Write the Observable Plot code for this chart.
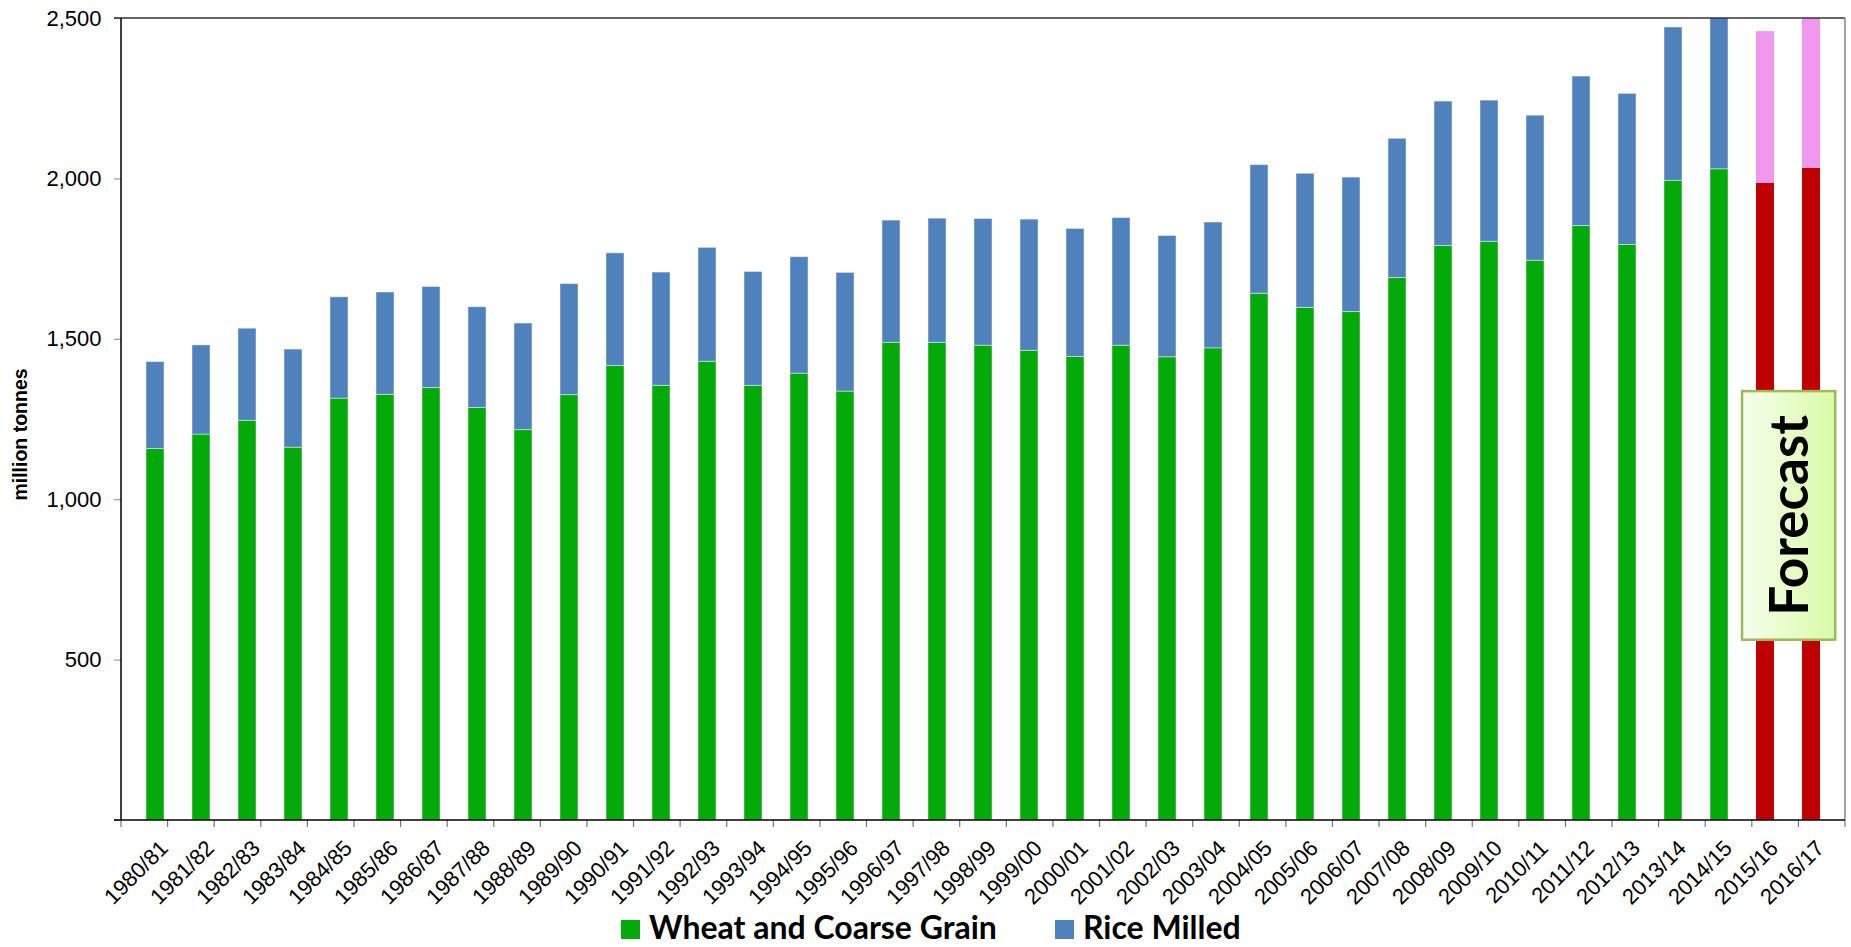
<!DOCTYPE html>
<html>
<head>
<meta charset="utf-8">
<script src="https://cdn.jsdelivr.net/npm/d3@7"></script>
<script src="https://cdn.jsdelivr.net/npm/@observablehq/plot@0.6"></script>
<style>
html, body { margin: 0; padding: 0; background: #fff; overflow: hidden; }
#chart { position: relative; width: 1851px; height: 947px; }
.legend .item { position: absolute; top: 914px; height: 26px; display: flex; align-items: flex-start;
  font-family: Lato, "Open Sans", sans-serif; font-weight: 700; font-size: 32px; line-height: 26px;
  color: #000; white-space: nowrap; }
.legend .sw { width: 19px; height: 19px; margin-top: 6px; margin-right: 9px; flex: none; }
</style>
</head>
<body>
<div id="chart"></div>
<script>
// ---- data (million tonnes) ----
const years = ["1980/81","1981/82","1982/83","1983/84","1984/85","1985/86","1986/87","1987/88","1988/89","1989/90",
  "1990/91","1991/92","1992/93","1993/94","1994/95","1995/96","1996/97","1997/98","1998/99","1999/00",
  "2000/01","2001/02","2002/03","2003/04","2004/05","2005/06","2006/07","2007/08","2008/09","2009/10",
  "2010/11","2011/12","2012/13","2013/14","2014/15","2015/16","2016/17"];
const wheatCoarse = [1158,1203,1246,1162,1315,1327,1348,1286,1217,1326,
  1417,1355,1430,1355,1393,1337,1489,1489,1480,1464,
  1445,1480,1444,1472,1642,1598,1585,1691,1791,1804,
  1745,1853,1794,1994,2030,1986,2033];
const riceMilled = [271,278,287,306,316,319,315,314,332,346,
  351,353,355,355,363,370,381,387,395,409,
  399,398,378,392,401,418,419,434,450,440,
  452,466,471,478,478,473,480];
const forecastYears = ["2015/16","2016/17"];
const seriesNames = ["Wheat and Coarse Grain", "Rice Milled"];
const seriesColors = ["#04A90A", "#4F81BD"];
const forecastColors = ["#C00000", "#F097EE"];
const yTicks = [0, 500, 1000, 1500, 2000, 2500];
const yLabel = "million tonnes";
const forecastLabel = "Forecast";
const forecastBox = [562, 1337]; // value range covered by the annotation box

// ---- table for the library ----
const rows = years.flatMap((year, i) => {
  const f = forecastYears.includes(year);
  return [
    {year, series: seriesNames[0] + (f ? " (forecast)" : ""), value: wheatCoarse[i], forecast: f},
    {year, series: seriesNames[1] + (f ? " (forecast)" : ""), value: riceMilled[i], forecast: f}
  ];
});
const colorDomain = [...seriesNames, ...seriesNames.map(s => s + " (forecast)")];
const colorRange = [...seriesColors, ...forecastColors];

const decor = (index, scales, values, dimensions) => {
  const {width, height, marginLeft, marginRight, marginTop, marginBottom} = dimensions;
  const x0 = marginLeft, x1 = width - marginRight, y0 = marginTop, y1 = height - marginBottom;
  const step = (x1 - x0) / years.length;
  const g = d3.create("svg:g");
  // category boundary ticks
  for (let i = 0; i <= years.length; i++) {
    const x = x0 + i * step;
    g.append("line").attr("x1", x).attr("x2", x).attr("y1", y1).attr("y2", y1 + 7)
      .attr("stroke", "#777").attr("stroke-width", 1.2);
  }
  // frame
  g.append("line").attr("x1", x0 - 7).attr("x2", x1).attr("y1", y0).attr("y2", y0).attr("stroke", "#333").attr("stroke-width", 1.5);
  g.append("line").attr("x1", x1).attr("x2", x1).attr("y1", y0).attr("y2", y1).attr("stroke", "#888").attr("stroke-width", 1.5);
  g.append("line").attr("x1", x0).attr("x2", x0).attr("y1", y0).attr("y2", y1).attr("stroke", "#000").attr("stroke-width", 1.5);
  g.append("line").attr("x1", x0 - 7).attr("x2", x1).attr("y1", y1).attr("y2", y1).attr("stroke", "#000").attr("stroke-width", 1.5);
  // forecast annotation box
  const fi = years.indexOf(forecastYears[0]);
  const bx = x0 + fi * step - 0.21 * step;
  const bw = forecastYears.length * step;
  const by = scales.y(forecastBox[1]);
  const bh = scales.y(forecastBox[0]) - by;
  const grad = g.append("defs").append("linearGradient").attr("id", "fcGrad")
    .attr("x1", "0").attr("x2", "1").attr("y1", "0").attr("y2", "0");
  grad.append("stop").attr("offset", "0").attr("stop-color", "#F5FFEE");
  grad.append("stop").attr("offset", "1").attr("stop-color", "#D9FBA6");
  g.append("rect").attr("x", bx).attr("y", by).attr("width", bw).attr("height", bh)
    .attr("fill", "url(#fcGrad)").attr("stroke", "#9BBB59").attr("stroke-width", 2.5);
  g.append("text").attr("transform", `translate(${bx + bw / 2},${by + bh / 2}) rotate(-90)`)
    .attr("text-anchor", "middle").attr("dy", "0.36em")
    .attr("font-family", 'Lato, "Open Sans", sans-serif').attr("font-weight", 700).attr("font-size", 53)
    .attr("fill", "#000").text(forecastLabel);
  return g.node();
};

const chart = Plot.plot({
  width: 1851,
  height: 912,
  marginTop: 18,
  marginLeft: 121,
  marginRight: 6,
  marginBottom: 92,
  style: {fontFamily: '"Liberation Sans", Arial, sans-serif', fontSize: "21.5px", color: "#000", background: "#fff"},
  x: {domain: years, paddingInner: 0.6, paddingOuter: 0.3, align: 0.5, axis: null},
  y: {domain: [0, 2500]},
  color: {domain: colorDomain, range: colorRange},
  marks: [
    Plot.barY(rows.filter(d => !d.forecast), Plot.stackY({x: "year", y: "value", fill: "series",
      stroke: "#fff", strokeOpacity: 0.45, strokeWidth: 1, clip: true})),
    Plot.barY(rows.filter(d => d.forecast), Plot.stackY({x: "year", y: "value", fill: "series", clip: true})),
    Plot.axisY({ticks: yTicks, tickFormat: d => d === 0 ? "" : d3.format(",")(d), tickSize: 7, tickPadding: 13,
      stroke: "#888", fill: "#000", label: null, fontSize: 22}),
    Plot.text(years, {x: d => d, frameAnchor: "bottom", dy: 24, dx: 9, rotate: -45,
      textAnchor: "end", lineAnchor: "middle", fontSize: 22, fill: "#000",
      fontFamily: '"Liberation Sans", Arial, sans-serif'}),
    Plot.text([yLabel], {frameAnchor: "left", dx: -101, dy: 15, rotate: -90, fontWeight: "bold",
      fontSize: 19.5, textAnchor: "middle", lineAnchor: "middle", fill: "#000"}),
    decor
  ]
});

const root = document.getElementById("chart");
root.appendChild(chart);
const legend = document.createElement("div");
legend.className = "legend";
const legendLefts = [621, 1055];
seriesNames.forEach((name, i) => {
  const item = document.createElement("div");
  item.className = "item";
  item.style.left = legendLefts[i] + "px";
  const sw = document.createElement("span");
  sw.className = "sw";
  sw.style.background = seriesColors[i];
  const label = document.createElement("span");
  label.textContent = name;
  item.appendChild(sw);
  item.appendChild(label);
  legend.appendChild(item);
});
root.appendChild(legend);
</script>
</body>
</html>
